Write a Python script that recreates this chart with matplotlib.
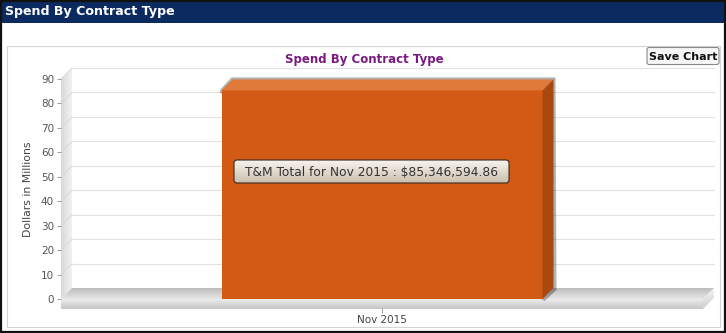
import numpy as np
import matplotlib
matplotlib.use("Agg")
import matplotlib.pyplot as plt
from matplotlib.patches import Polygon, Rectangle, FancyBboxPatch
from matplotlib.transforms import IdentityTransform

# data
months = ["Nov 2015"]
contract_type = "T&M"
spend_dollars = [85346594.86]
spend_millions = [v / 1e6 for v in spend_dollars]
y_ticks = list(range(0, 100, 10))

W, H = 726, 333
DEPTH = 11  # px of fake 3d depth
BAR_FRONT = "#d35a14"
BAR_TOP = "#e07a3a"
BAR_SIDE = "#a9480f"


def gradient(axis, poly_pts, c1, c2, vertical=True, z=1):
    """ fill a polygon (bg pixel coords) with a linear gradient """
    pts = np.array(poly_pts)
    x0, x1 = pts[:, 0].min(), pts[:, 0].max()
    y0, y1 = pts[:, 1].min(), pts[:, 1].max()
    c1 = np.array(matplotlib.colors.to_rgb(c1))
    c2 = np.array(matplotlib.colors.to_rgb(c2))
    t = np.linspace(0, 1, 64)
    cols = c1[None, :] * (1 - t[:, None]) + c2[None, :] * t[:, None]
    img = cols[:, None, :] if vertical else cols[None, :, :]
    im = axis.imshow(img, extent=(x0, x1, y1, y0), aspect="auto",
                     interpolation="bilinear", zorder=z)
    clip = Polygon(pts, closed=True, facecolor="none", edgecolor="none",
                   transform=axis.transData)
    axis.add_patch(clip)
    im.set_clip_path(clip)


fig = plt.figure(figsize=(W / 100, H / 100), dpi=100)

# background layer, pixel coords with origin top-left
bg = fig.add_axes([0, 0, 1, 1], zorder=0)
bg.set_xlim(0, W)
bg.set_ylim(H, 0)
bg.axis("off")

# plot axes = front plane of the 3d chart
ax = fig.add_axes([61 / W, (H - 299) / H, 642 / W, 220 / H], zorder=1)
ax.set_facecolor("none")
ax.set_xlim(-0.5, 0.5)
ax.set_ylim(0, 90)

# top overlay for tooltip and button
top = fig.add_axes([0, 0, 1, 1], zorder=3)
top.set_xlim(0, W)
top.set_ylim(H, 0)
top.axis("off")

# window frame + header
bg.add_patch(Rectangle((0, 0), W, 23, facecolor="#0b2b60", edgecolor="none"))
bg.add_patch(Rectangle((0.8, 0.8), W - 1.6, H - 1.6, facecolor="none",
                       edgecolor="#111111", lw=1.6))
bg.text(5, 12, "Spend By Contract Type", color="white", fontsize=9.1,
        fontweight="bold", va="center", ha="left")
bg.add_patch(Rectangle((7, 46), 713, 281, facecolor="none",
                       edgecolor="#d4d4d4", lw=0.8))


def to_bg(pts):
    return [(x, H - y) for x, y in pts]


# front plane corners in display px
(fx0, fy0), (fx1, fy1) = ax.transAxes.transform([(0, 0), (1, 1)])

# gridlines on the back wall
for v in y_ticks[1:]:
    yd = ax.transData.transform((0, v))[1]
    yb = H - yd - DEPTH
    bg.plot([fx0 + DEPTH, fx1 + DEPTH], [yb, yb], color="#e2e2e2", lw=0.8,
            zorder=1)
    # faint line across the side wall
    bg.plot([fx0, fx0 + DEPTH], [H - yd, yb], color="#d6d6d6", lw=0.6,
            zorder=2)

# left side wall
wall = to_bg([(fx0, fy0), (fx0, fy1), (fx0 + DEPTH, fy1 + DEPTH),
              (fx0 + DEPTH, fy0 + DEPTH)])
gradient(bg, wall, "#d8d8d8", "#f2f2f2", vertical=False, z=1.5)

# floor slab
slab = 10
floor_top = to_bg([(fx0, fy0), (fx1, fy0), (fx1 + DEPTH, fy0 + DEPTH),
                   (fx0 + DEPTH, fy0 + DEPTH)])
floor_front = to_bg([(fx0, fy0), (fx1, fy0), (fx1, fy0 - slab),
                     (fx0, fy0 - slab)])
floor_side = to_bg([(fx1, fy0), (fx1 + DEPTH, fy0 + DEPTH),
                    (fx1 + DEPTH, fy0 + DEPTH - slab), (fx1, fy0 - slab)])
gradient(bg, floor_top, "#bdbdbd", "#e6e6e6", z=2.5)
gradient(bg, floor_front, "#ececec", "#c6c6c6", z=2.5)
gradient(bg, floor_side, "#f4f4f4", "#cfcfcf", z=2.5)

# bar
bars = ax.bar(range(len(months)), spend_millions, width=0.5,
              color=BAR_FRONT, edgecolor="none", zorder=3)
ax.set_xticks(range(len(months)))
ax.set_xticklabels(months)
ax.set_xlim(-0.5, 0.5)

for b in bars:
    (bx0, by0), (bx1, by1) = ax.transData.transform(
        [(b.get_x(), 0), (b.get_x() + b.get_width(), b.get_height())])
    d = DEPTH
    # soft shadow
    shadow = [(bx0 - 2, by1 - 2), (bx0 - 1, by1 + 1), (bx0 + d - 1, by1 + d + 2),
              (bx1 + d + 2, by1 + d + 2), (bx1 + d + 3, by0 + d - 2),
              (bx1 + 2, by0 - 2)]
    ax.add_patch(Polygon(shadow, closed=True, facecolor="#000000",
                         alpha=0.3, edgecolor="none", transform=IdentityTransform(),
                         clip_on=False, zorder=2.8))
    topf = [(bx0, by1), (bx1, by1), (bx1 + d, by1 + d), (bx0 + d, by1 + d)]
    side = [(bx1, by0), (bx1, by1), (bx1 + d, by1 + d), (bx1 + d, by0 + d)]
    ax.add_patch(Polygon(topf, closed=True, facecolor=BAR_TOP, edgecolor="none",
                         transform=IdentityTransform(), clip_on=False, zorder=3))
    ax.add_patch(Polygon(side, closed=True, facecolor=BAR_SIDE, edgecolor="none",
                         transform=IdentityTransform(), clip_on=False, zorder=3))

for s in ax.spines.values():
    s.set_visible(False)
ax.spines["bottom"].set_position(("outward", 6.5))
ax.set_yticks(y_ticks)
ax.tick_params(axis="y", length=3, width=0.7, color="#999999", pad=2,
               labelsize=7.5, labelcolor="#555555")
ax.tick_params(axis="x", length=3.5, width=0.7, color="#999999", pad=1.5,
               labelsize=7.5, labelcolor="#444444")
ax.set_ylabel("Dollars in Millions", fontsize=7.8, color="#444444", labelpad=6)

# chart title
top.text(364, 60, "Spend By Contract Type", color="#7a1a82", fontsize=8.5,
         fontweight="bold", ha="center", va="center")

# save chart button
top.add_patch(FancyBboxPatch((647, 47.5), 72, 17, boxstyle="round,pad=0,rounding_size=2",
                             facecolor="#f6f6f6", edgecolor="#888888", lw=0.8))
top.text(683, 56.5, "Save Chart", fontsize=8, fontweight="bold", color="#111111",
         ha="center", va="center")

# tooltip
tip_box = [(234, 160), (509, 160), (509, 183), (234, 183)]
box = FancyBboxPatch((234, 160), 275, 23, boxstyle="round,pad=0,rounding_size=3",
                     facecolor="none", edgecolor="#3a2a20", lw=0.8, zorder=5)
top.add_patch(box)
gradient(top, tip_box, "#f8f4ee", "#cbbfae", z=4)
top.images[-1].set_clip_path(box)
tip = "%s Total for %s : $%s" % (contract_type, months[0],
                                  format(spend_dollars[0], ",.2f"))
top.text(371.5, 172, tip, fontsize=8.8, color="#333333", ha="center", va="center",
         zorder=6)

fig.savefig("out.png", dpi=100)
